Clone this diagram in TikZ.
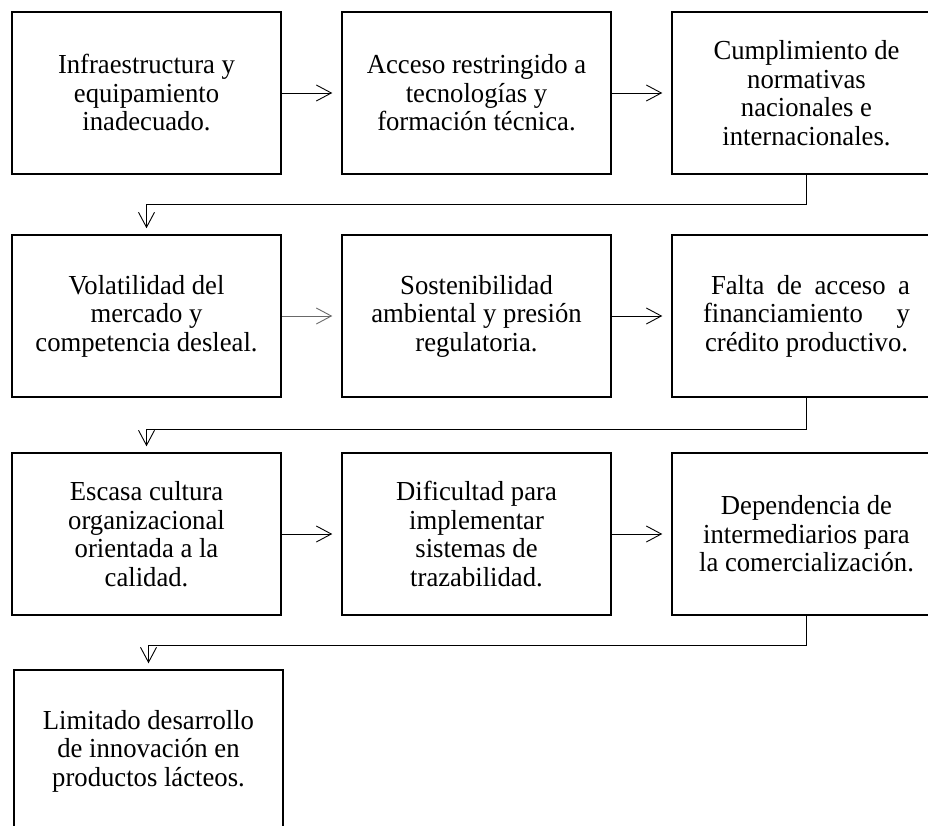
\documentclass[tikz,border=0pt]{standalone}
\usepackage{fontspec}
\setmainfont[FakeStretch=0.97]{Liberation Serif}
\usetikzlibrary{arrows.meta,positioning}
\definecolor{LineGray}{RGB}{105,105,105}
\newcommand\causafont{\fontsize{27.5}{28.5}\selectfont}

\begin{document}
\begin{tikzpicture}[x=1pt,y=-1pt,>={Straight Barb[length=15pt,width=16pt]},
    causa/.style={draw,line width=1.5pt,minimum width=269pt,minimum height=162pt,
      inner sep=0pt,align=center,font=\causafont},
    flecha/.style={->,line width=0.9pt,shorten >=9pt},
    baja/.style={->,line width=0.9pt,shorten >=6pt}]
  \useasboundingbox (0,0) rectangle (928,826);
  \node[causa] (c1) at (146.5,93) {Infraestructura y\\equipamiento\\inadecuado.};
  \node[causa] (c2) at (476.5,93) {Acceso restringido a\\tecnologías y\\formación técnica.};
  \node[causa] (c3) at (806.5,93) {Cumplimiento de\\normativas\\nacionales e\\internacionales.};
  \node[causa] (c4) at (146.5,316) {Volatilidad del\\mercado y\\competencia desleal.};
  \node[causa] (c5) at (476.5,316) {Sostenibilidad\\ambiental y presión\\regulatoria.};
  \node[causa] (c6) at (806.5,316) {\makebox[207pt][s]{\hspace*{8pt}Falta de acceso a}\\
    \makebox[207pt][s]{financiamiento y}\\crédito productivo.};
  \node[causa] (c7) at (146.5,534) {Escasa cultura\\organizacional\\orientada a la\\calidad.};
  \node[causa] (c8) at (476.5,534) {Dificultad para\\implementar\\sistemas de\\trazabilidad.};
  \node[causa] (c9) at (806.5,534) {Dependencia de\\intermediarios para\\la comercialización.};
  \node[causa] (c10) at (148.5,751) {Limitado desarrollo\\de innovación en\\productos lácteos.};
  \draw[flecha] (c1) -- (c2);
  \draw[flecha] (c2) -- (c3);
  \draw[baja] (c3.south) -- ++(0,30) -| (c4.north);
  \draw[flecha,LineGray] (c4) -- (c5);
  \draw[flecha] (c5) -- (c6);
  \draw[baja] (c6.south) -- ++(0,32) -| (c7.north);
  \draw[flecha] (c7) -- (c8);
  \draw[flecha] (c8) -- (c9);
  \draw[baja] (c9.south) -- ++(0,30) -| (c10.north);
\end{tikzpicture}
\end{document}
